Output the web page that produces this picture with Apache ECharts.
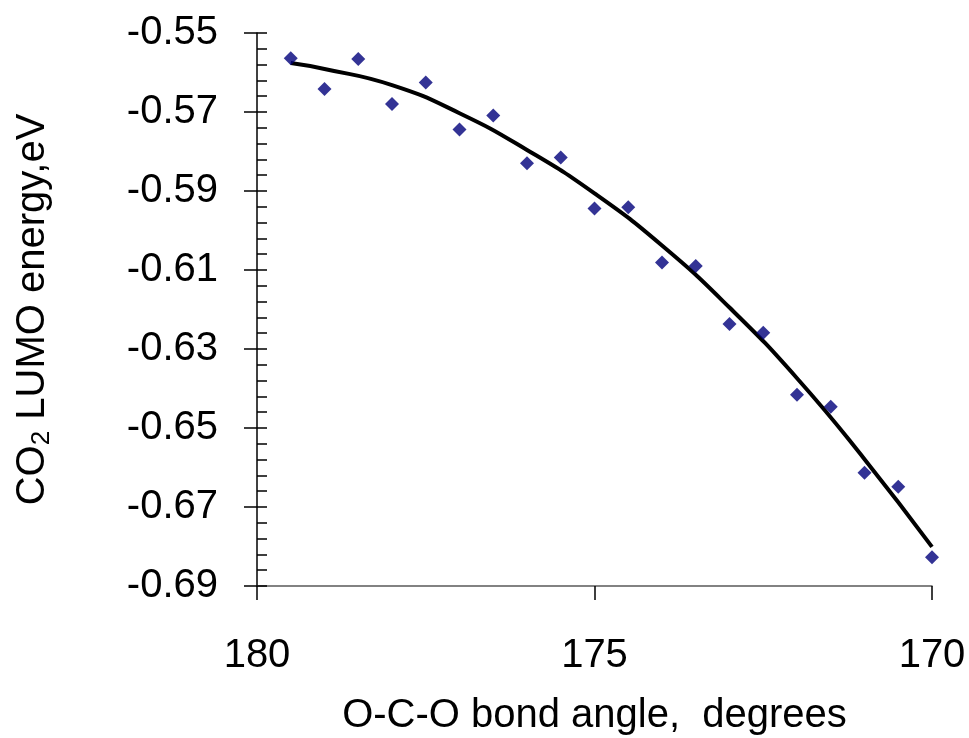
<!DOCTYPE html>
<html lang="en">
<head>
    <meta charset="UTF-8">
    <title>CO2 LUMO energy</title>
    <script type="text/javascript" src="https://cdn.jsdelivr.net/npm/echarts@6/dist/echarts.min.js"></script>
</head>
<body style="margin:0; background:#fff;">
    <div id="main" style="width: 969px; height: 738px;"></div>
    <script type="text/javascript">

var angles = [179.5, 179, 178.5, 178, 177.5, 177, 176.5, 176, 175.5, 175,
              174.5, 174, 173.5, 173, 172.5, 172, 171.5, 171, 170.5, 170];
var lumo = [-0.5564, -0.5642, -0.5566, -0.5680, -0.5625, -0.5744, -0.5709, -0.5830, -0.5815, -0.5944,
            -0.5941, -0.6081, -0.6090, -0.6237, -0.6259, -0.6416, -0.6446, -0.6613, -0.6649, -0.6827];

// trend line
var trendAngles = [179.5, 179, 178, 177, 176, 175, 174, 173, 172, 171, 170];
var trendLumo = [-0.5576, -0.5591, -0.5632, -0.5703, -0.5796, -0.5906, -0.6038, -0.6195, -0.6374, -0.6579, -0.6801];

var xTicks = [180, 175, 170];
var yTicks = [-0.55, -0.57, -0.59, -0.61, -0.63, -0.65, -0.67, -0.69];

var chartDom = document.getElementById('main');
var myChart = echarts.init(chartDom);
var option;

var font = 'Liberation Sans, Arial, sans-serif';

option = {
    animation: false,
    grid: { left: 257, right: 37, top: 33, bottom: 152, outerBoundsMode: 'none', containLabel: false },
    xAxis: {
        type: 'value',
        min: xTicks[2],
        max: xTicks[0],
        interval: 5,
        inverse: true,
        name: 'O-C-O bond angle,  degrees',
        nameLocation: 'middle',
        nameGap: 110,
        nameTextStyle: { fontFamily: font, fontSize: 40, color: '#000' },
        axisLine: { show: true, onZero: false, lineStyle: { color: '#5a5a5a', width: 1.5 } },
        axisTick: { show: true, inside: false, length: 14, lineStyle: { color: '#000', width: 1.5 } },
        axisLabel: { fontFamily: font, fontSize: 40, color: '#000', margin: 50 },
        splitLine: { show: false }
    },
    yAxis: [{
        type: 'value',
        min: yTicks[7],
        max: yTicks[0],
        interval: 0.02,
        name: '{a|CO}{s|2}{a| LUMO energy,eV}',
        nameLocation: 'middle',
        nameRotate: 90,
        nameGap: 202,
        nameTextStyle: {
            rich: {
                a: { fontFamily: font, fontSize: 40, color: '#000' },
                s: { fontFamily: font, fontSize: 26, color: '#000', verticalAlign: 'bottom', padding: [18, 0, 0, 0] }
            }
        },
        axisLine: { show: true, onZero: false, lineStyle: { color: '#000', width: 1.5 } },
        axisTick: { show: true, inside: false, length: 13, lineStyle: { color: '#000', width: 1.5 } },
        axisLabel: {
            fontFamily: font, fontSize: 40, color: '#000', margin: 39,
            formatter: function (v) { return v.toFixed(2); }
        },
        splitLine: { show: false }
    }, {
        type: 'value',
        position: 'left',
        min: yTicks[7],
        max: yTicks[0],
        interval: 0.02,
        axisLine: { show: false },
        axisTick: { show: true, inside: true, length: 10, lineStyle: { color: '#000', width: 1.5 } },
        minorTick: { show: true, splitNumber: 5, length: 10, lineStyle: { color: '#000', width: 1.5 } },
        axisLabel: { show: false },
        splitLine: { show: false }
    }],
    series: [
        {
            name: 'trend',
            type: 'line',
            smooth: true,
            symbol: 'none',
            lineStyle: { color: '#000', width: 4 },
            data: trendAngles.map(function (a, i) { return [a, trendLumo[i]]; }),
            z: 2
        },
        {
            name: 'LUMO',
            type: 'scatter',
            symbol: 'diamond',
            symbolSize: 14,
            itemStyle: { color: '#00007a' },
            data: angles.map(function (a, i) { return [a, lumo[i]]; }),
            z: 3
        }
    ]
};

option && myChart.setOption(option);
    </script>
</body>
</html>
